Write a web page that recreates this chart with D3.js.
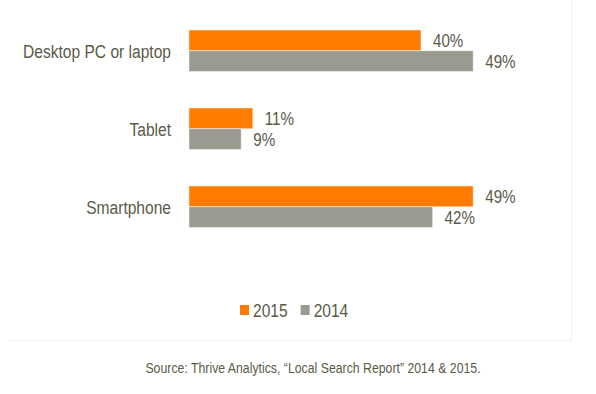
<!DOCTYPE html>
<html>
<head>
<meta charset="utf-8">
<script src="https://cdn.jsdelivr.net/npm/d3@7"></script>
<style>
  body { margin: 0; background: #fff; }
  text { font-family: "Liberation Sans", Arial, sans-serif; fill: #5a5a48; }
</style>
</head>
<body>
<div id="chart"></div>
<script>
// data
var categories = ['Desktop PC or laptop', 'Tablet', 'Smartphone'];
var seriesNames = ['2015', '2014'];
var values2015 = [40, 11, 49];
var values2014 = [49, 9, 42];
var sourceNote = 'Source: Thrive Analytics, \u201cLocal Search Report\u201d 2014 & 2015.';

var colors = {'2015': '#ff7c00', '2014': '#9a9a90'};
var narrow = 0.82; // no Arial Narrow installed, squeeze Liberation Sans instead

var w = 596, h = 394;
var svg = d3.select('#chart').append('svg')
    .attr('width', w)
    .attr('height', h);

function place(px, py) {
    return 'translate(' + px + ',' + py + ') scale(' + narrow + ',1)';
}

// faint panel border (right + bottom)
svg.append('path')
    .attr('d', 'M571.5,0V340.5H9')
    .attr('fill', 'none')
    .attr('stroke', '#ecf1f1')
    .attr('stroke-width', 1);

// scales
var x = d3.scaleLinear()
    .domain([0, 50])
    .range([189, 479]);
var y = d3.scaleBand()
    .domain(categories)
    .range([30, 227.5])
    .paddingInner(0.468)
    .paddingOuter(0);
var ySub = d3.scaleBand()
    .domain(seriesNames)
    .range([0, y.bandwidth()]);

var rows = categories.map(function(c, i) {
    return {cat: c, vals: [
        {key: '2015', value: values2015[i]},
        {key: '2014', value: values2014[i]}
    ]};
});

var group = svg.selectAll('g.cat')
    .data(rows)
  .enter().append('g')
    .attr('class', 'cat')
    .attr('transform', function(d) { return 'translate(0,' + y(d.cat) + ')'; });

group.selectAll('rect')
    .data(function(d) { return d.vals; })
  .enter().append('rect')
    .attr('x', x(0))
    .attr('y', function(d) { return ySub(d.key); })
    .attr('width', function(d) { return x(d.value) - x(0); })
    .attr('height', ySub.bandwidth())
    .attr('fill', function(d) { return colors[d.key]; })
    .attr('stroke', 'rgba(255,255,255,0.45)')
    .attr('stroke-width', 1);

// value labels
group.selectAll('text.val')
    .data(function(d) { return d.vals; })
  .enter().append('text')
    .attr('class', 'val')
    .attr('transform', function(d) {
        return place(x(d.value) + 12, ySub(d.key) + ySub.bandwidth() / 2);
    })
    .attr('dy', '0.36em')
    .style('font-size', '18.5px')
    .text(function(d) { return d.value + '%'; });

// category labels
group.append('text')
    .attr('transform', place(x(0) - 18, y.bandwidth() / 2))
    .attr('dy', '0.36em')
    .attr('text-anchor', 'end')
    .style('font-size', '19px')
    .text(function(d) { return d.cat; });

// legend
var legend = svg.append('g')
    .attr('transform', 'translate(240,310)');
var lx = 0;
seriesNames.forEach(function(s) {
    legend.append('rect')
        .attr('x', lx)
        .attr('y', -5)
        .attr('width', 9)
        .attr('height', 10)
        .attr('fill', colors[s]);
    var t = legend.append('text')
        .attr('transform', place(lx + 13, 0))
        .attr('dy', '0.36em')
        .style('font-size', '19px')
        .text(s);
    lx += 13 + t.node().getComputedTextLength() * narrow + 13;
});

// source
svg.append('text')
    .attr('transform', place(313, 368))
    .attr('dy', '0.36em')
    .attr('text-anchor', 'middle')
    .style('font-size', '15px')
    .text(sourceNote);
</script>
</body>
</html>
